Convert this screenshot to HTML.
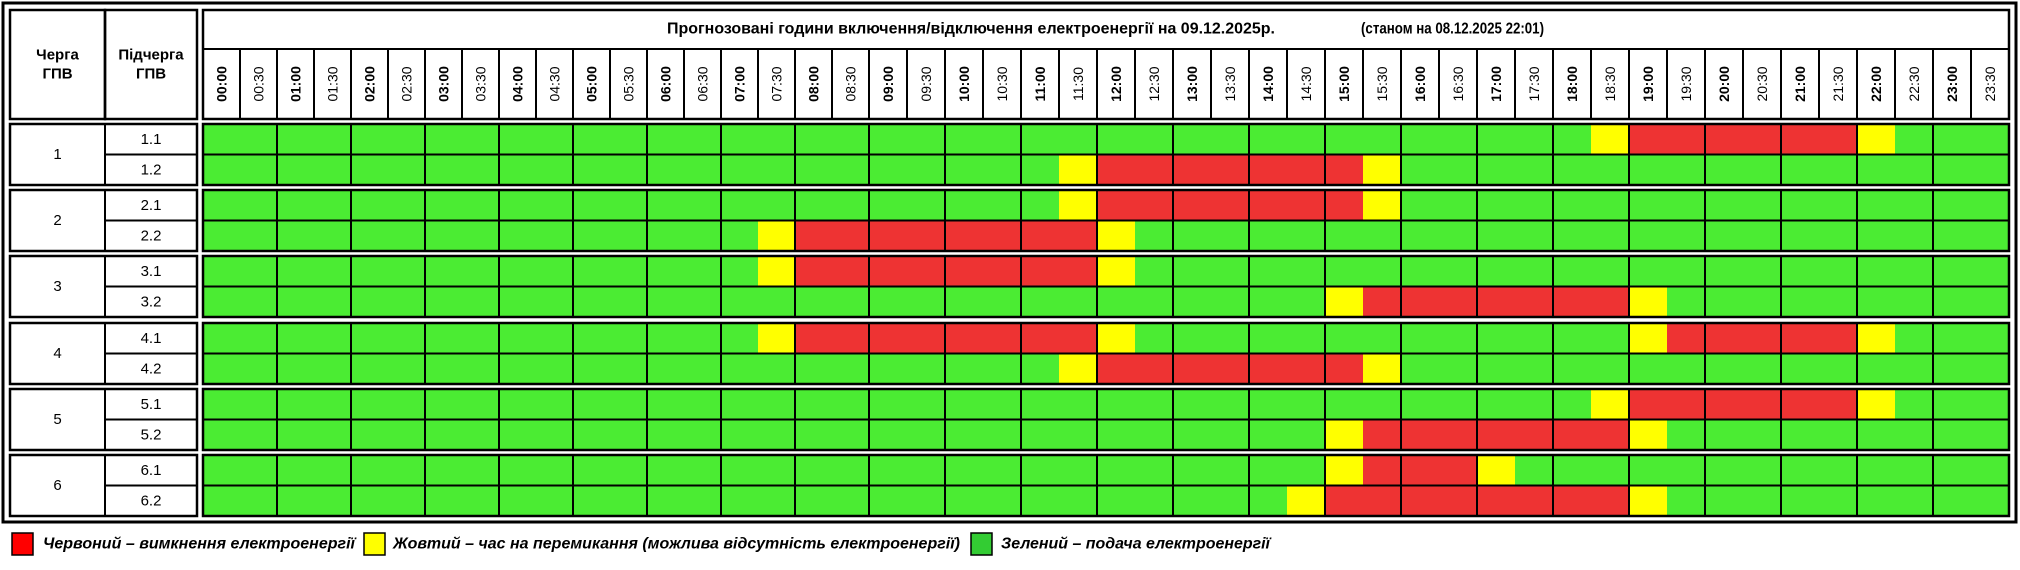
<!DOCTYPE html>
<html><head><meta charset="utf-8"><style>
html,body{margin:0;padding:0;background:#fff;}
svg{display:block;}
.t{font-family:"Liberation Sans",sans-serif;}
.h text{font-family:"Liberation Sans",sans-serif;font-size:14px;text-anchor:middle;dominant-baseline:central;}
.h text.b{font-weight:bold;}
.n{font-family:"Liberation Sans",sans-serif;font-size:15px;text-anchor:middle;dominant-baseline:central;}
.lg{font-family:"Liberation Sans Narrow","Liberation Sans",sans-serif;font-size:16px;font-weight:bold;font-style:italic;dominant-baseline:central;}
.ti{font-family:"Liberation Sans Narrow","Liberation Sans",sans-serif;font-size:16px;font-weight:bold;font-style:normal;dominant-baseline:central;}
</style></head><body>
<svg width="2020" height="570" viewBox="0 0 2020 570" xmlns="http://www.w3.org/2000/svg">
<defs>
<g id="grid" fill="none" stroke="#000">
 <path stroke-width="2" d="M277 0V61M351 0V61M425 0V61M499 0V61M573 0V61M647 0V61M721 0V61M795 0V61M869 0V61M945 0V61M1021 0V61M1097 0V61M1173 0V61M1249 0V61M1325 0V61M1401 0V61M1477 0V61M1553 0V61M1629 0V61M1705 0V61M1781 0V61M1857 0V61M1933 0V61M203 30.5H2009M105 30.5H197M105 0V61"/>
 <rect x="203" y="0" width="1806" height="61" stroke-width="2.5"/>
 <rect x="10" y="0" width="187" height="61" stroke-width="2.5"/>
</g>
</defs>
<rect x="3" y="3" width="2013" height="519" fill="none" stroke="#000" stroke-width="3"/>
<g fill="none" stroke="#000">
 <rect x="10" y="10" width="95" height="109" stroke-width="2.5"/>
 <rect x="105" y="10" width="92" height="109" stroke-width="2.5"/>
 <rect x="203" y="10" width="1806" height="109" stroke-width="2.5"/>
 <path stroke-width="2" d="M203 49H2009M240 49V119M277 49V119M314 49V119M351 49V119M388 49V119M425 49V119M462 49V119M499 49V119M536 49V119M573 49V119M610 49V119M647 49V119M684 49V119M721 49V119M758 49V119M795 49V119M832 49V119M869 49V119M907 49V119M945 49V119M983 49V119M1021 49V119M1059 49V119M1097 49V119M1135 49V119M1173 49V119M1211 49V119M1249 49V119M1287 49V119M1325 49V119M1363 49V119M1401 49V119M1439 49V119M1477 49V119M1515 49V119M1553 49V119M1591 49V119M1629 49V119M1667 49V119M1705 49V119M1743 49V119M1781 49V119M1819 49V119M1857 49V119M1895 49V119M1933 49V119M1971 49V119"/>
</g>
<text class="t" x="57.5" y="55" font-size="15" font-weight="bold" text-anchor="middle" dominant-baseline="central">Черга</text>
<text class="t" x="57.5" y="74" font-size="15" font-weight="bold" text-anchor="middle" dominant-baseline="central">ГПВ</text>
<text class="t" x="151" y="55" font-size="15" font-weight="bold" text-anchor="middle" dominant-baseline="central">Підчерга</text>
<text class="t" x="151" y="74" font-size="15" font-weight="bold" text-anchor="middle" dominant-baseline="central">ГПВ</text>
<text class="ti" x="667" y="29" textLength="608" lengthAdjust="spacingAndGlyphs">Прогнозовані години включення/відключення електроенергії на 09.12.2025р.</text>
<text class="ti" x="1361" y="29" textLength="183" lengthAdjust="spacingAndGlyphs">(станом на 08.12.2025 22:01)</text>
<g class="h">
<text class="b" transform="translate(221.5,84) rotate(-90)">00:00</text><text transform="translate(258.5,84) rotate(-90)">00:30</text>
<text class="b" transform="translate(295.5,84) rotate(-90)">01:00</text><text transform="translate(332.5,84) rotate(-90)">01:30</text>
<text class="b" transform="translate(369.5,84) rotate(-90)">02:00</text><text transform="translate(406.5,84) rotate(-90)">02:30</text>
<text class="b" transform="translate(443.5,84) rotate(-90)">03:00</text><text transform="translate(480.5,84) rotate(-90)">03:30</text>
<text class="b" transform="translate(517.5,84) rotate(-90)">04:00</text><text transform="translate(554.5,84) rotate(-90)">04:30</text>
<text class="b" transform="translate(591.5,84) rotate(-90)">05:00</text><text transform="translate(628.5,84) rotate(-90)">05:30</text>
<text class="b" transform="translate(665.5,84) rotate(-90)">06:00</text><text transform="translate(702.5,84) rotate(-90)">06:30</text>
<text class="b" transform="translate(739.5,84) rotate(-90)">07:00</text><text transform="translate(776.5,84) rotate(-90)">07:30</text>
<text class="b" transform="translate(813.5,84) rotate(-90)">08:00</text><text transform="translate(850.5,84) rotate(-90)">08:30</text>
<text class="b" transform="translate(888,84) rotate(-90)">09:00</text><text transform="translate(926,84) rotate(-90)">09:30</text>
<text class="b" transform="translate(964,84) rotate(-90)">10:00</text><text transform="translate(1002,84) rotate(-90)">10:30</text>
<text class="b" transform="translate(1040,84) rotate(-90)">11:00</text><text transform="translate(1078,84) rotate(-90)">11:30</text>
<text class="b" transform="translate(1116,84) rotate(-90)">12:00</text><text transform="translate(1154,84) rotate(-90)">12:30</text>
<text class="b" transform="translate(1192,84) rotate(-90)">13:00</text><text transform="translate(1230,84) rotate(-90)">13:30</text>
<text class="b" transform="translate(1268,84) rotate(-90)">14:00</text><text transform="translate(1306,84) rotate(-90)">14:30</text>
<text class="b" transform="translate(1344,84) rotate(-90)">15:00</text><text transform="translate(1382,84) rotate(-90)">15:30</text>
<text class="b" transform="translate(1420,84) rotate(-90)">16:00</text><text transform="translate(1458,84) rotate(-90)">16:30</text>
<text class="b" transform="translate(1496,84) rotate(-90)">17:00</text><text transform="translate(1534,84) rotate(-90)">17:30</text>
<text class="b" transform="translate(1572,84) rotate(-90)">18:00</text><text transform="translate(1610,84) rotate(-90)">18:30</text>
<text class="b" transform="translate(1648,84) rotate(-90)">19:00</text><text transform="translate(1686,84) rotate(-90)">19:30</text>
<text class="b" transform="translate(1724,84) rotate(-90)">20:00</text><text transform="translate(1762,84) rotate(-90)">20:30</text>
<text class="b" transform="translate(1800,84) rotate(-90)">21:00</text><text transform="translate(1838,84) rotate(-90)">21:30</text>
<text class="b" transform="translate(1876,84) rotate(-90)">22:00</text><text transform="translate(1914,84) rotate(-90)">22:30</text>
<text class="b" transform="translate(1952,84) rotate(-90)">23:00</text><text transform="translate(1990,84) rotate(-90)">23:30</text>
</g>

<g transform="translate(0,124)">
 <rect x="203" y="0" width="1806" height="61" fill="#4BEC33"/>
 <rect x="1591" y="0" width="38" height="30.5" fill="#FFFF00"/><rect x="1629" y="0" width="228" height="30.5" fill="#EE3333"/><rect x="1857" y="0" width="38" height="30.5" fill="#FFFF00"/>
 <rect x="1059" y="30.5" width="38" height="30.5" fill="#FFFF00"/><rect x="1097" y="30.5" width="266" height="30.5" fill="#EE3333"/><rect x="1363" y="30.5" width="38" height="30.5" fill="#FFFF00"/>
 <use href="#grid"/>
 <text class="n" x="57.5" y="30.5">1</text><text class="n" x="151" y="15.5">1.1</text><text class="n" x="151" y="46">1.2</text>
</g>
<g transform="translate(0,190)">
 <rect x="203" y="0" width="1806" height="61" fill="#4BEC33"/>
 <rect x="1059" y="0" width="38" height="30.5" fill="#FFFF00"/><rect x="1097" y="0" width="266" height="30.5" fill="#EE3333"/><rect x="1363" y="0" width="38" height="30.5" fill="#FFFF00"/>
 <rect x="758" y="30.5" width="37" height="30.5" fill="#FFFF00"/><rect x="795" y="30.5" width="302" height="30.5" fill="#EE3333"/><rect x="1097" y="30.5" width="38" height="30.5" fill="#FFFF00"/>
 <use href="#grid"/>
 <text class="n" x="57.5" y="30.5">2</text><text class="n" x="151" y="15.5">2.1</text><text class="n" x="151" y="46">2.2</text>
</g>
<g transform="translate(0,256)">
 <rect x="203" y="0" width="1806" height="61" fill="#4BEC33"/>
 <rect x="758" y="0" width="37" height="30.5" fill="#FFFF00"/><rect x="795" y="0" width="302" height="30.5" fill="#EE3333"/><rect x="1097" y="0" width="38" height="30.5" fill="#FFFF00"/>
 <rect x="1325" y="30.5" width="38" height="30.5" fill="#FFFF00"/><rect x="1363" y="30.5" width="266" height="30.5" fill="#EE3333"/><rect x="1629" y="30.5" width="38" height="30.5" fill="#FFFF00"/>
 <use href="#grid"/>
 <text class="n" x="57.5" y="30.5">3</text><text class="n" x="151" y="15.5">3.1</text><text class="n" x="151" y="46">3.2</text>
</g>
<g transform="translate(0,323)">
 <rect x="203" y="0" width="1806" height="61" fill="#4BEC33"/>
 <rect x="758" y="0" width="37" height="30.5" fill="#FFFF00"/><rect x="795" y="0" width="302" height="30.5" fill="#EE3333"/><rect x="1097" y="0" width="38" height="30.5" fill="#FFFF00"/>
 <rect x="1629" y="0" width="38" height="30.5" fill="#FFFF00"/><rect x="1667" y="0" width="190" height="30.5" fill="#EE3333"/><rect x="1857" y="0" width="38" height="30.5" fill="#FFFF00"/>
 <rect x="1059" y="30.5" width="38" height="30.5" fill="#FFFF00"/><rect x="1097" y="30.5" width="266" height="30.5" fill="#EE3333"/><rect x="1363" y="30.5" width="38" height="30.5" fill="#FFFF00"/>
 <use href="#grid"/>
 <text class="n" x="57.5" y="30.5">4</text><text class="n" x="151" y="15.5">4.1</text><text class="n" x="151" y="46">4.2</text>
</g>
<g transform="translate(0,389)">
 <rect x="203" y="0" width="1806" height="61" fill="#4BEC33"/>
 <rect x="1591" y="0" width="38" height="30.5" fill="#FFFF00"/><rect x="1629" y="0" width="228" height="30.5" fill="#EE3333"/><rect x="1857" y="0" width="38" height="30.5" fill="#FFFF00"/>
 <rect x="1325" y="30.5" width="38" height="30.5" fill="#FFFF00"/><rect x="1363" y="30.5" width="266" height="30.5" fill="#EE3333"/><rect x="1629" y="30.5" width="38" height="30.5" fill="#FFFF00"/>
 <use href="#grid"/>
 <text class="n" x="57.5" y="30.5">5</text><text class="n" x="151" y="15.5">5.1</text><text class="n" x="151" y="46">5.2</text>
</g>
<g transform="translate(0,455)">
 <rect x="203" y="0" width="1806" height="61" fill="#4BEC33"/>
 <rect x="1325" y="0" width="38" height="30.5" fill="#FFFF00"/><rect x="1363" y="0" width="114" height="30.5" fill="#EE3333"/><rect x="1477" y="0" width="38" height="30.5" fill="#FFFF00"/>
 <rect x="1287" y="30.5" width="38" height="30.5" fill="#FFFF00"/><rect x="1325" y="30.5" width="304" height="30.5" fill="#EE3333"/><rect x="1629" y="30.5" width="38" height="30.5" fill="#FFFF00"/>
 <use href="#grid"/>
 <text class="n" x="57.5" y="30.5">6</text><text class="n" x="151" y="15.5">6.1</text><text class="n" x="151" y="46">6.2</text>
</g>

<rect x="12" y="533" width="21" height="22" fill="#FF0000" stroke="#000" stroke-width="1.5"/>
<text class="lg" x="43" y="544" textLength="312" lengthAdjust="spacingAndGlyphs">Червоний – вимкнення електроенергії</text>
<rect x="364" y="533" width="21" height="22" fill="#FFFF00" stroke="#000" stroke-width="1.5"/>
<text class="lg" x="393" y="544" textLength="567" lengthAdjust="spacingAndGlyphs">Жовтий – час на перемикання (можлива відсутність електроенергії)</text>
<rect x="971" y="533" width="21" height="22" fill="#33CC33" stroke="#000" stroke-width="1.5"/>
<text class="lg" x="1001" y="544" textLength="269" lengthAdjust="spacingAndGlyphs">Зелений – подача електроенергії</text>
</svg>
</body></html>
